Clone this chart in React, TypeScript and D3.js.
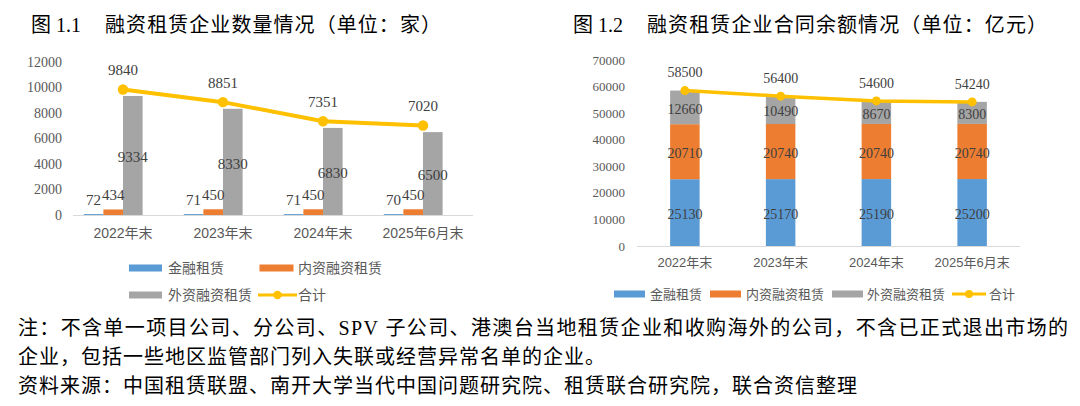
import React from 'react';
import * as d3 from 'd3';

const categories = ['2022年末', '2023年末', '2024年末', '2025年6月末'];
// Figure 1.1 (count of companies)
const countFinancial = [72, 71, 71, 70];
const countDomestic = [434, 450, 450, 450];
const countForeign = [9334, 8330, 6830, 6500];
const countTotal = [9840, 8851, 7351, 7020];
const countTicks = [0, 2000, 4000, 6000, 8000, 10000, 12000];
// Figure 1.2 (contract balance)
const balFinancial = [25130, 25170, 25190, 25200];
const balDomestic = [20710, 20740, 20740, 20740];
const balForeign = [12660, 10490, 8670, 8300];
const balTotal = [58500, 56400, 54600, 54240];
const balTicks = [0, 10000, 20000, 30000, 40000, 50000, 60000, 70000];

const seriesNames = ['金融租赁', '内资融资租赁', '外资融资租赁', '合计'];
const titleLeftNo = '图 1.1';
const titleLeft = '融资租赁企业数量情况（单位：家）';
const titleRightNo = '图 1.2';
const titleRight = '融资租赁企业合同余额情况（单位：亿元）';
const notes = [
  '注：不含单一项目公司、分公司、SPV 子公司、港澳台当地租赁企业和收购海外的公司，不含已正式退出市场的',
  '企业，包括一些地区监管部门列入失联或经营异常名单的企业。',
  '资料来源：中国租赁联盟、南开大学当代中国问题研究院、租赁联合研究院，联合资信整理',
];

const BLUE = '#5B9BD5';
const ORANGE = '#ED7D31';
const GRAY = '#A5A5A5';
const YELLOW = '#FFC000';
const AXIS = '#D9D9D9';
const TICK = '#595959';
const LABEL = '#404040';
const SERIF = "'Liberation Serif', 'Times New Roman', 'Noto Sans CJK SC', serif";
const SANS = "'Liberation Sans', 'Noto Sans CJK SC', sans-serif";
const TITLE = "'Liberation Serif', 'Noto Sans CJK SC', serif";

function LeftChart() {
  const x = d3.scaleBand<string>().domain(categories).range([73, 473]).padding(0);
  const y = d3.scaleLinear().domain([0, 12000]).range([215, 62]);
  const bw = 19.6;
  const series = [
    { vals: countFinancial, color: BLUE, off: -1.5 },
    { vals: countDomestic, color: ORANGE, off: -0.5 },
    { vals: countForeign, color: GRAY, off: 0.5 },
  ];
  const cx = (c: string) => (x(c) as number) + x.bandwidth() / 2;
  const line = d3
    .line<number>()
    .x((_, i) => cx(categories[i]))
    .y((d) => y(d));
  return (
    <g>
      {countTicks.map((t) => (
        <text key={t} x={62} y={y(t)} dy="0.35em" textAnchor="end" fontFamily={SERIF} fontSize={14} fill={TICK}>
          {t}
        </text>
      ))}
      {series.map((s, si) =>
        s.vals.map((v, i) => (
          <rect
            key={`${si}-${i}`}
            x={cx(categories[i]) + s.off * bw - bw / 2}
            y={y(v)}
            width={bw}
            height={y(0) - y(v)}
            fill={s.color}
          />
        ))
      )}
      <line x1={73} x2={473} y1={y(0) + 0.5} y2={y(0) + 0.5} stroke={AXIS} strokeWidth={1.2} />
      {categories.map((c) => (
        <text key={c} x={cx(c)} y={233} dy="0.35em" textAnchor="middle" fontFamily={SANS} fontSize={14} fill={TICK}>
          {c}
        </text>
      ))}
      <path d={line(countTotal) || ''} fill="none" stroke={YELLOW} strokeWidth={4} />
      {countTotal.map((v, i) => (
        <circle key={i} cx={cx(categories[i])} cy={y(v)} r={5.2} fill={YELLOW} />
      ))}
      {/* labels */}
      {series.slice(0, 2).map((s, si) =>
        s.vals.map((v, i) => (
          <text
            key={`l${si}-${i}`}
            x={cx(categories[i]) + s.off * bw}
            y={y(v) - 14.5}
            dy="0.35em"
            textAnchor="middle"
            fontFamily={SERIF}
            fontSize={15}
            fill={LABEL}
          >
            {v}
          </text>
        ))
      )}
      {countForeign.map((v, i) => (
        <text
          key={`g${i}`}
          x={cx(categories[i]) + 0.5 * bw}
          y={(y(v) + y(0)) / 2 + 1.5}
          dy="0.35em"
          textAnchor="middle"
          fontFamily={SERIF}
          fontSize={15}
          fill={LABEL}
        >
          {v}
        </text>
      ))}
      {countTotal.map((v, i) => (
        <text key={`t${i}`} x={cx(categories[i])} y={y(v) - 19.7} dy="0.35em" textAnchor="middle" fontFamily={SERIF} fontSize={15} fill={LABEL}>
          {v}
        </text>
      ))}
      {/* legend */}
      <g fontFamily={SANS} fontSize={14} fill={TICK}>
        <rect x={129} y={264.5} width={33} height={7} fill={BLUE} />
        <text x={168} y={268} dy="0.35em">{seriesNames[0]}</text>
        <rect x={259.5} y={264.5} width={34} height={7} fill={ORANGE} />
        <text x={298} y={268} dy="0.35em">{seriesNames[1]}</text>
        <rect x={129} y={291.5} width={33} height={7} fill={GRAY} />
        <text x={168} y={295} dy="0.35em">{seriesNames[2]}</text>
        <line x1={258} x2={297} y1={295} y2={295} stroke={YELLOW} strokeWidth={3} />
        <circle cx={277.5} cy={295} r={4.2} fill={YELLOW} />
        <text x={298} y={295} dy="0.35em">{seriesNames[3]}</text>
      </g>
    </g>
  );
}

function RightChart() {
  const x = d3.scaleBand<string>().domain(categories).range([637, 1020]).padding(0);
  const y = d3.scaleLinear().domain([0, 70000]).range([246, 60]);
  const bw = 29.5;
  const cx = (c: string) => (x(c) as number) + x.bandwidth() / 2;
  const stackRows = categories.map((c, i) => ({ c, a: balFinancial[i], b: balDomestic[i], g: balForeign[i] }));
  const stacked = d3.stack<any>().keys(['a', 'b', 'g'])(stackRows);
  const colors = [BLUE, ORANGE, GRAY];
  const line = d3
    .line<number>()
    .x((_, i) => cx(categories[i]))
    .y((d) => y(d));
  return (
    <g>
      {balTicks.map((t) => (
        <text key={t} x={625} y={y(t)} dy="0.35em" textAnchor="end" fontFamily={SERIF} fontSize={13} fill={TICK}>
          {t}
        </text>
      ))}
      {stacked.map((layer, li) =>
        layer.map((seg, i) => (
          <rect
            key={`${li}-${i}`}
            x={cx(categories[i]) - bw / 2}
            y={y(seg[1])}
            width={bw}
            height={y(seg[0]) - y(seg[1])}
            fill={colors[li]}
          />
        ))
      )}
      <line x1={637} x2={1020} y1={y(0) + 0.5} y2={y(0) + 0.5} stroke={AXIS} strokeWidth={1.2} />
      {categories.map((c) => (
        <text key={c} x={cx(c)} y={262.5} dy="0.35em" textAnchor="middle" fontFamily={SANS} fontSize={13} fill={TICK}>
          {c}
        </text>
      ))}
      {stacked.map((layer, li) =>
        layer.map((seg, i) => (
          <text
            key={`s${li}-${i}`}
            x={cx(categories[i])}
            y={(y(seg[0]) + y(seg[1])) / 2 + 1.5}
            dy="0.35em"
            textAnchor="middle"
            fontFamily={SERIF}
            fontSize={14}
            fill={LABEL}
          >
            {seg[1] - seg[0]}
          </text>
        ))
      )}
      <path d={line(balTotal) || ''} fill="none" stroke={YELLOW} strokeWidth={3.5} />
      {balTotal.map((v, i) => (
        <circle key={i} cx={cx(categories[i])} cy={y(v)} r={4.5} fill={YELLOW} />
      ))}
      {balTotal.map((v, i) => (
        <text key={`t${i}`} x={cx(categories[i])} y={y(v) - 18} dy="0.35em" textAnchor="middle" fontFamily={SERIF} fontSize={14} fill={LABEL}>
          {v}
        </text>
      ))}
      <g fontFamily={SANS} fontSize={13} fill={TICK}>
        <rect x={614} y={290.5} width={31} height={7} fill={BLUE} />
        <text x={650} y={294} dy="0.35em">{seriesNames[0]}</text>
        <rect x={710} y={290.5} width={31} height={7} fill={ORANGE} />
        <text x={746} y={294} dy="0.35em">{seriesNames[1]}</text>
        <rect x={832} y={290.5} width={31} height={7} fill={GRAY} />
        <text x={867} y={294} dy="0.35em">{seriesNames[2]}</text>
        <line x1={952} x2={986} y1={294} y2={294} stroke={YELLOW} strokeWidth={3} />
        <circle cx={969} cy={294} r={4} fill={YELLOW} />
        <text x={989} y={294} dy="0.35em">{seriesNames[3]}</text>
      </g>
    </g>
  );
}

export default function App() {
  return (
    <svg
      width={1080}
      height={406}
      viewBox="0 0 1080 406"
      style={{ position: 'absolute', left: 0, top: 0, background: '#fff' }}
    >
      <rect x={0} y={0} width={1080} height={406} fill="#fff" />
      <g fontFamily={TITLE} fontSize={20} fill="#000">
        <text x={31} y={25} dy="0.35em">{titleLeftNo}</text>
        <text x={105} y={25} dy="0.35em" textLength={336} lengthAdjust="spacing">{titleLeft}</text>
        <text x={573} y={25} dy="0.35em">{titleRightNo}</text>
        <text x={647} y={25} dy="0.35em" textLength={400} lengthAdjust="spacing">{titleRight}</text>
      </g>
      <LeftChart />
      <RightChart />
      <g fontFamily={TITLE} fontSize={20} fill="#000">
        <text x={18} y={328} dy="0.35em" textLength={1050} lengthAdjust="spacing">{notes[0]}</text>
        <text x={18} y={357} dy="0.35em" letterSpacing={1}>{notes[1]}</text>
        <text x={18} y={386} dy="0.35em" letterSpacing={1}>{notes[2]}</text>
      </g>
    </svg>
  );
}
